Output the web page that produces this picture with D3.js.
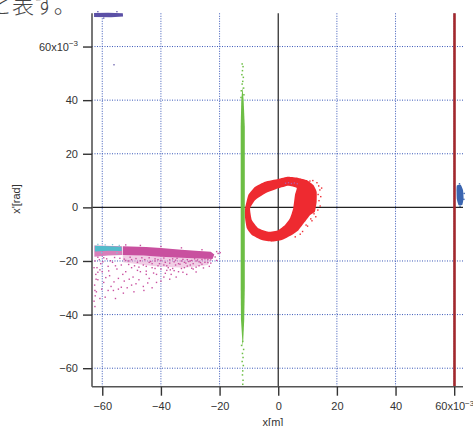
<!DOCTYPE html>
<html><head><meta charset="utf-8">
<script src="https://cdn.jsdelivr.net/npm/d3@7/dist/d3.min.js"></script>
<style>body{margin:0;background:#fff}svg{display:block}</style>
</head><body>
<svg id="c" width="473" height="426"></svg>
<script>
// ---- data (values in units of 10^-3) ----
const xTicks = [-60, -40, -20, 0, 20, 40, 60];
const yTicks = [-60, -40, -20, 0, 20, 40, 60];
const xDomain = [-63.5, 63];
const yDomain = [-66.9, 72.4];

// dense regions (outlines)
const purpleTop = [[-62.8,72.5],[-58,72.6],[-53,72.4],[-52.9,71.2],[-57,70.9],[-62.8,71.0]];
const magentaLeft = [[-62.7,-14.2],[-53.3,-14.5],[-53.2,-17.8],[-58,-18.0],[-62.7,-18.4]];
const magentaHaze = [[-53,-17.5],[-40,-18.2],[-30,-18.8],[-23,-19.2],[-24,-21.5],[-32,-22.5],[-42,-22.0],[-53,-20.5]];
const magentaBand = [[-53,-14.5],[-45,-14.8],[-40,-15.2],[-33,-15.8],[-27,-16.3],[-23,-16.6],[-21.8,-17.6],[-22.4,-19.3],[-27,-19.1],[-33,-18.8],[-40,-18.4],[-46,-18.0],[-53,-17.8]];
const cyanBand = [[-62.5,-14.3],[-58,-14.5],[-53.5,-14.7],[-53.4,-16.3],[-58,-16.2],[-62.5,-16.5]];
const greenBand = [[-12.2,45],[-11.8,40],[-11.4,30],[-11.4,0],[-11.4,-30],[-11.6,-42],[-11.9,-49],[-12.1,-52],[-12.3,-49],[-12.7,-42],[-12.8,-30],[-12.8,0],[-12.8,30],[-12.6,40]];
const ringOuter = [[-11.3,-0.4],[-10.2,4.6],[-7.9,7.7],[-4.5,9.6],[0,10.6],[3.4,11.4],[6.9,11.0],[9.7,10.2],[12,8.3],[13.1,5.8],[13.1,2.1],[12.5,-1.6],[10.8,-2.9],[9.1,-5.4],[6.9,-8.5],[4.6,-10.3],[1.2,-12.2],[-2.2,-12.8],[-5.6,-12.2],[-9,-10.3],[-10.7,-7.8],[-11.3,-4.1]];
const ringInner = [[-9.6,-0.4],[-7.9,2.7],[-4.5,5.2],[0,7.1],[3.4,8.1],[6.3,7.3],[5.7,4.6],[5.1,-0.4],[4,-4.1],[2.3,-6.6],[0,-8.5],[-3.4,-9.1],[-6.8,-7.8],[-9,-4.7]];
const blueRight = [[60.9,8.2],[62.2,8.4],[63.0,6.5],[63.2,3.5],[62.8,1.0],[61.5,0.8],[60.9,3],[60.8,6]];
const redLineX = 60.1;

// sparse points
const purplePts = [[-56,53.2],[-61.5,73.0],[-55,73.0],[-59.5,70.6]];
const magentaPts = [
 [-62.5,-20],[-61.8,-22.5],[-62.2,-25],[-61.5,-27],[-62.6,-29],[-62,-31.5],[-62.4,-33],[-62.8,-35],[-62.5,-37],
 [-61,-19.5],[-60.5,-21],[-60,-24],[-59.5,-28],[-60.2,-30.5],[-59,-33.5],[-58.5,-19.2],[-58,-22],[-57.5,-25.5],
 [-57,-29.5],[-56.2,-31],[-55.5,-34],[-56.5,-20.5],[-55,-23],[-54.5,-26.5],[-54,-19],[-53.5,-21.5],[-52.5,-27.5],
 [-52,-24],[-51.5,-30],[-51,-20],[-50,-22.5],[-49.5,-26],[-48.5,-28.5],[-48,-20.5],[-47,-24],[-46,-29.5],
 [-45.5,-19.5],[-45,-22],[-44,-26.5],[-43,-21],[-42.5,-24.5],[-41.5,-28],[-41,-19.5],[-40,-23],[-39,-26],
 [-38.5,-20.5],[-37.5,-22.5],[-36.5,-25],[-36,-19.2],[-35,-21.5],[-34,-24],[-33,-20],[-32,-22.5],[-31,-19.5],
 [-30,-21.5],[-29,-23],[-28,-20],[-27,-21.8],[-26,-19.5],[-25,-20.5],[-24,-19.5],[-23,-20.8],[-21.5,-18.5],[-20.5,-17.2],
 [-44,-18.8],[-42,-19.2],[-39,-18.9],[-37,-19.6],[-34.5,-19.0],[-32.5,-19.4],[-30.5,-20.2],[-28.5,-19.2],[-26.5,-20.6],
 [-43.5,-20.2],[-40.5,-21],[-38,-21.8],[-35.5,-20.3],[-33.5,-21.2],[-31.5,-20.8],[-29.5,-19.8],[-27.5,-19.6],
 [-50.5,-18.6],[-48.5,-19.1],[-46.5,-18.8],[-52.5,-19.3],[-55.8,-18.7],[-59.5,-18.8],[-61.5,-18.6],[-57.2,-19.9],
 [-60.8,-23.3],[-58.8,-26.2],[-53,-25],[-50.8,-26.8],[-47.5,-22.3],[-45,-25],[-42,-22.8],[-36.8,-23.3],
 [-52,-14.0],[-47,-14.2],[-40,-14.6],[-33,-15.1],[-26,-15.8],[-21,-16.5],
 [-52,-19.8],[-51,-21.3],[-50,-19.5],[-49,-21.8],[-48,-23.5],[-47,-19.9],[-46,-21.5],[-45,-23.8],[-44,-20.5],[-43,-22.5],
 [-42,-20],[-41,-21.8],[-40,-19.8],[-39,-21.5],[-38,-23.5],[-37,-20.8],[-36,-22.8],[-35,-19.7],[-34,-21],[-33,-22.8],
 [-32,-20.5],[-31,-21.9],[-30,-20],[-29,-21],[-28,-22.3],[-27,-20.3],[-26,-21.2],[-25,-19.2],[-24,-20.6],[-23,-19.6],
 [-41.5,-25],[-38.5,-24.6],[-35.5,-23.6],[-32.5,-24.2],[-29.5,-22.7],[-44.5,-28.2],[-47.5,-27],[-50,-29],[-53.5,-29.8],
 [-56,-27.8],[-58,-31],[-60.8,-34],[-61.5,-24.2],[-59.8,-20.3],[-57.8,-23.7],[-55.5,-21.8],[-54.5,-30.5],[-52.8,-32],
 [-49.2,-31.5],[-45.8,-31],[-43,-30],[-40,-27.5],[-37,-26.8],[-34.8,-26],[-31.2,-25],[-28,-24.1],[-25.5,-22.6],
 [-23.5,-22],[-62.8,-22.5],[-62.1,-26.8],[-62.5,-31],[-19.8,-16.9],[-21,-19.8]
];
const cyanPts = [[-61.5,-13.8],[-59,-14.0],[-56.5,-13.9],[-54.2,-14.2],[-60.2,-16.9],[-55,-17.0]];
const greenPts = [
 [-12.3,53.5],[-12.0,52.5],[-12.2,51],[-12.4,49.5],[-11.9,48.5],[-12.1,47],[-12.3,46],[-11.8,44.5],[-12.6,43.5],[-11.7,42],[-12.7,41],
 [-12.1,-50],[-12.5,-51.5],[-11.8,-53],[-12.2,-54.5],[-12.0,-56],[-12.3,-57.5],[-11.9,-59],[-12.1,-61],[-12.2,-62.5],[-12.0,-64.5],[-12.1,-66]
];
const redPts = [[13.8,8],[14.2,6.5],[14.5,4],[13.9,2.5],[14.3,0.5],[13.5,-1],[12.8,-3.5],[11.5,-5],[10,-7],[8.3,-9],[14.8,7.2],[13.2,9.2],[11.8,10],[5.8,-11],[7.5,-10],[12.2,-2.4],[11.1,-4.3],[9.5,-6.6],[10.8,9.8],[13.6,4.8]];
const pinkInPts = [[2.5,9.0],[3.5,9.2],[4.5,8.9],[5.5,9.1],[6.5,8.8]];
const bluePts = [[63.4,5.2],[63.3,3.0],[62.0,0.4],[61.8,8.8]];

// ---- drawing ----
const svg = d3.select("#c");
const L = 92, R = 463, T = 13.3, B = 386.7;
const x = d3.scaleLinear().domain(xDomain).range([L, R]);
const y = d3.scaleLinear().domain(yDomain).range([B, T]);

// grid
const grid = svg.append("g");
grid.selectAll(".vg").data(xTicks.filter(d => d !== 0)).join("line")
  .attr("x1", d => x(d)).attr("x2", d => x(d)).attr("y1", T).attr("y2", B)
  .attr("stroke", "#3a58b8").attr("stroke-width", 1).attr("stroke-dasharray", "1,1.5");
grid.selectAll(".hg").data(yTicks.filter(d => d !== 0)).join("line")
  .attr("y1", d => y(d)).attr("y2", d => y(d)).attr("x1", L).attr("x2", R)
  .attr("stroke", "#3a58b8").attr("stroke-width", 1).attr("stroke-dasharray", "1,1.5");

// zero lines
svg.append("line").attr("x1", x(0)).attr("x2", x(0)).attr("y1", T).attr("y2", B).attr("stroke", "#222").attr("stroke-width", 1.2);
svg.append("line").attr("x1", L).attr("x2", R).attr("y1", y(0)).attr("y2", y(0)).attr("stroke", "#222").attr("stroke-width", 1.2);

const poly = d3.line().x(d => x(d[0])).y(d => y(d[1])).curve(d3.curveLinearClosed);
const smooth = d3.line().x(d => x(d[0])).y(d => y(d[1])).curve(d3.curveCardinalClosed.tension(0.6));
const marks = svg.append("g");

function dots(data, color, s) {
  marks.append("g").selectAll("rect").data(data).join("rect")
    .attr("x", d => x(d[0]) - s/2).attr("y", d => y(d[1]) - s/2)
    .attr("width", s).attr("height", s).attr("fill", color);
}

// purple top
marks.append("path").attr("d", poly(purpleTop)).attr("fill", "#5b50a6");
dots(purplePts, "#5b50a6", 1.3);
// magenta
marks.append("path").attr("d", poly(magentaLeft)).attr("fill", "#d471b2").attr("opacity", 0.9);
marks.append("path").attr("d", poly(magentaHaze)).attr("fill", "#e6a6cf").attr("opacity", 0.55);
marks.append("path").attr("d", poly(magentaBand)).attr("fill", "#c9509f");
dots(magentaPts, "#c9509f", 1.4);
// cyan
marks.append("path").attr("d", poly(cyanBand)).attr("fill", "#52bccb");
dots(cyanPts, "#7cc9d6", 1.3);
// green
marks.append("path").attr("d", poly(greenBand)).attr("fill", "#6dbe45");
dots(greenPts, "#6dbe45", 1.5);
// red ring
marks.append("path").attr("d", smooth(ringOuter) + smooth(ringInner)).attr("fill", "#ee2a30").attr("fill-rule", "evenodd");
dots(redPts, "#ee2a30", 1.4);
dots(pinkInPts, "#b35aac", 1.3);
// dark red line
marks.append("line").attr("x1", x(redLineX)).attr("x2", x(redLineX)).attr("y1", y(yDomain[1])).attr("y2", y(yDomain[0]))
  .attr("stroke", "#a2282d").attr("stroke-width", 2.6);
// blue right
marks.append("path").attr("d", smooth(blueRight)).attr("fill", "#3b65b0");
dots(bluePts, "#3b65b0", 1.4);

// axes
const fmt = d => d3.format("d")(d).replace("-", "\u2212");
const xa = svg.append("g").attr("transform", `translate(0,${B})`)
  .call(d3.axisBottom(x).tickValues(xTicks).tickSize(9).tickSizeOuter(0).tickPadding(7).tickFormat(fmt));
const ya = svg.append("g").attr("transform", `translate(${L},0)`)
  .call(d3.axisLeft(y).tickValues(yTicks).tickSize(9).tickSizeOuter(0).tickPadding(5).tickFormat(fmt));
[xa, ya].forEach(a => {
  a.select(".domain").attr("stroke", "#555").attr("stroke-width", 1.6);
  a.selectAll(".tick line").attr("stroke", "#333").attr("stroke-width", 1.4);
  a.selectAll(".tick text").attr("fill", "#333").style("font-family", "'Liberation Sans', Arial, sans-serif").style("font-size", "11px");
});
xa.select(".domain").attr("d", `M${L},0H${R}`);
ya.select(".domain").attr("d", `M0,${T}V${B}`);

function sci(sel) {
  sel.selectAll(".tick text").filter(d => d === 60).each(function() {
    const t = d3.select(this);
    t.text(null);
    t.append("tspan").text("60x10");
    t.append("tspan").text("\u22123").attr("dy", "-0.6em").style("font-size", "8px");
  });
}
sci(xa); sci(ya);

// axis titles
svg.append("text").attr("x", 273).attr("y", 426).attr("text-anchor", "middle")
  .attr("fill", "#333").style("font-family", "'Liberation Sans', Arial, sans-serif").style("font-size", "11px").text("x[m]");
svg.append("text").attr("transform", "translate(20,199) rotate(-90)").attr("text-anchor", "middle")
  .attr("fill", "#333").style("font-family", "'Liberation Sans', Arial, sans-serif").style("font-size", "11px").text("x'[rad]");

// clipped text fragment at top-left
svg.append("text").attr("x", -10).attr("y", 13).attr("fill", "#444")
  .style("font-family", "'Noto Sans CJK JP', sans-serif").style("font-weight", 300).style("font-size", "22px").text("と表す。");
</script>
</body></html>
